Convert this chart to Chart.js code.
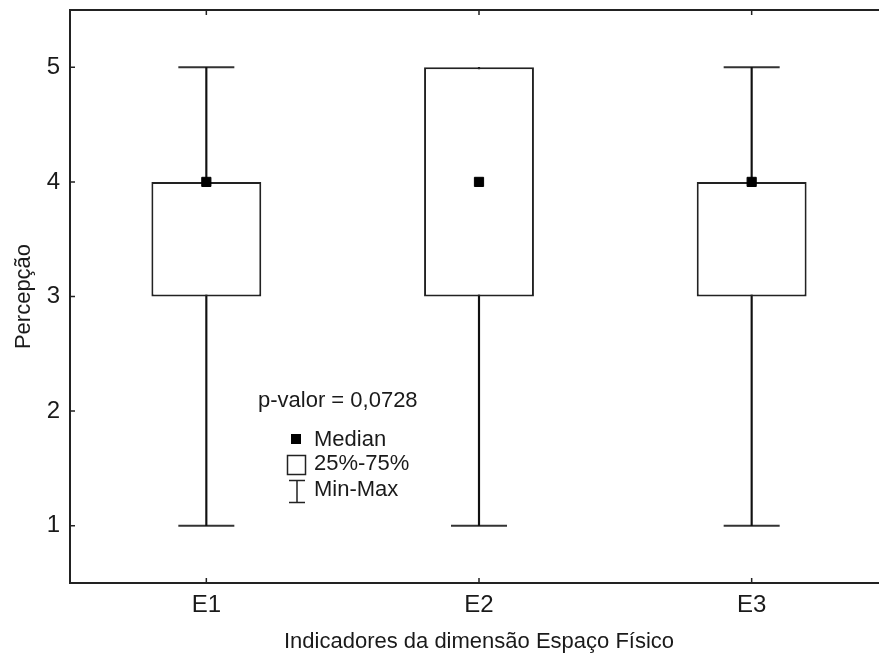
<!DOCTYPE html>
<html>
<head>
<meta charset="utf-8">
<script src="https://cdn.jsdelivr.net/npm/chart.js@4.4.1/dist/chart.umd.min.js"></script>
<style>
    html, body { margin: 0; padding: 0; overflow: hidden; background: #fff; }
    #wrap { width: 900px; height: 655px; }
</style>
</head>
<body>
<div id="wrap"><canvas id="myChart"></canvas></div>
<script>
// box plot values
const categories = ['E1', 'E2', 'E3'];
const mins = [1, 1, 1];
const maxs = [5, 5, 5];
const q1 = [3, 3, 3];
const q3 = [4, 5, 4];
const medians = [4, 4, 4];
const yTicks = [1, 2, 3, 4, 5];
const pValueText = 'p-valor = 0,0728';
const legendLabels = ['Median', '25%-75%', 'Min-Max'];

const fontFamily = '"Liberation Sans", Arial, sans-serif';
const textColor = '#1a1a1a';
const lineColor = '#222';

// no cap where the whisker has no length (it sits on the box edge)
const lowerCaps = mins.map((m, i) => (m === q1[i] ? null : m));
const upperCaps = maxs.map((m, i) => (m === q3[i] ? null : m));

// frame round the plot and ticks pointing inward
const framePlugin = {
    id: 'frame',
    afterDatasetsDraw: (chart) => {
        const { ctx, chartArea: a, scales: { x, y } } = chart;
        ctx.save();
        ctx.strokeStyle = lineColor;
        ctx.lineWidth = 2;
        ctx.strokeRect(a.left, a.top, a.right - a.left, a.bottom - a.top);
        ctx.lineWidth = 1.5;
        ctx.beginPath();
        y.ticks.forEach((t, i) => {
            const py = y.getPixelForTick(i);
            ctx.moveTo(a.left, py); ctx.lineTo(a.left + 5, py);
            ctx.moveTo(a.right, py); ctx.lineTo(a.right - 5, py);
        });
        x.ticks.forEach((t, i) => {
            const px = x.getPixelForTick(i);
            ctx.moveTo(px, a.bottom); ctx.lineTo(px, a.bottom - 5);
            ctx.moveTo(px, a.top); ctx.lineTo(px, a.top + 5);
        });
        ctx.stroke();
        ctx.restore();
    }
};

// p-value note and the little legend inside the plot
const notePlugin = {
    id: 'note',
    afterDraw: (chart) => {
        const ctx = chart.ctx;
        ctx.save();
        ctx.fillStyle = textColor;
        ctx.font = '22px ' + fontFamily;
        ctx.textBaseline = 'middle';
        ctx.textAlign = 'left';
        ctx.fillText(pValueText, 258, 401);

        // median marker
        ctx.fillStyle = '#000';
        ctx.fillRect(291, 434, 10, 10);
        // box marker
        ctx.strokeStyle = lineColor;
        ctx.lineWidth = 1.5;
        ctx.strokeRect(287.5, 455.5, 18, 19);
        // min-max marker
        ctx.beginPath();
        ctx.moveTo(289, 480.5); ctx.lineTo(305, 480.5);
        ctx.moveTo(297, 480.5); ctx.lineTo(297, 502.5);
        ctx.moveTo(289, 502.5); ctx.lineTo(305, 502.5);
        ctx.stroke();

        ctx.fillStyle = textColor;
        ctx.fillText(legendLabels[0], 314, 440);
        ctx.fillText(legendLabels[1], 314, 464);
        ctx.fillText(legendLabels[2], 314, 490);
        ctx.restore();
    }
};

const configuration = {
    type: 'bar',
    data: {
        labels: categories,
        datasets: [
            {
                // median squares on top
                type: 'line',
                data: medians,
                showLine: false,
                pointStyle: 'rect',
                pointRadius: 6.5,
                pointBackgroundColor: '#000',
                pointBorderColor: '#000',
                pointBorderWidth: 1,
                order: 0
            },
            {
                // 25%-75% boxes
                data: categories.map((c, i) => [q1[i], q3[i]]),
                backgroundColor: '#fff',
                borderColor: lineColor,
                borderWidth: 2,
                borderSkipped: false,
                grouped: false,
                barPercentage: 0.403,
                categoryPercentage: 1,
                order: 1
            },
            {
                // whisker stems
                data: categories.map((c, i) => [mins[i], maxs[i]]),
                backgroundColor: '#111',
                borderWidth: 0,
                grouped: false,
                barThickness: 1.5,
                order: 2
            },
            {
                // lower caps
                type: 'line',
                data: lowerCaps,
                showLine: false,
                pointStyle: 'line',
                pointRadius: 28,
                pointBorderColor: '#333',
                pointBorderWidth: 2,
                order: 2
            },
            {
                // upper caps
                type: 'line',
                data: upperCaps,
                showLine: false,
                pointStyle: 'line',
                pointRadius: 28,
                pointBorderColor: '#333',
                pointBorderWidth: 2,
                order: 2
            }
        ]
    },
    options: {
        responsive: true,
        maintainAspectRatio: false,
        animation: false,
        events: [],
        layout: { autoPadding: false, padding: { top: 10, right: 12, bottom: 0, left: 0 } },
        plugins: {
            legend: { display: false },
            tooltip: { enabled: false }
        },
        scales: {
            x: {
                grid: { display: false, drawTicks: false },
                border: { display: false },
                ticks: {
                    color: textColor,
                    padding: 8,
                    font: { family: fontFamily, size: 24 }
                },
                title: {
                    display: true,
                    text: 'Indicadores da dimensão Espaço Físico',
                    color: textColor,
                    padding: { top: 4, bottom: 0 },
                    font: { family: fontFamily, size: 22 }
                },
                afterFit: (scale) => {
                    scale.height = 72;
                    scale.paddingLeft = 0;
                    scale.paddingRight = 0;
                }
            },
            y: {
                min: 0.5,
                max: 5.5,
                grid: { display: false, drawTicks: false },
                border: { display: false },
                afterBuildTicks: (scale) => {
                    scale.ticks = yTicks.map(v => ({ value: v }));
                },
                ticks: {
                    color: textColor,
                    padding: 10,
                    font: { family: fontFamily, size: 24 }
                },
                title: {
                    display: true,
                    text: 'Percepção',
                    color: textColor,
                    padding: { top: 11, bottom: 0 },
                    font: { family: fontFamily, size: 22 }
                },
                afterFit: (scale) => {
                    scale.width = 70;
                    scale.paddingTop = 0;
                    scale.paddingBottom = 0;
                }
            }
        }
    },
    plugins: [framePlugin, notePlugin]
};

const myChartInstance = new Chart(document.getElementById('myChart'), configuration);
</script>
</body>
</html>
